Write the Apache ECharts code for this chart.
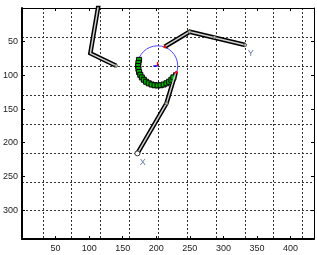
<!DOCTYPE html>
<html>
<head>
<meta charset="utf-8">
<script src="https://cdn.jsdelivr.net/npm/echarts@6/dist/echarts.min.js"></script>
<style>
  html, body { margin: 0; padding: 0; background: #fff; }
  #chart { width: 317px; height: 255px; }
</style>
</head>
<body>
<div id="chart"></div>
<script>
// axis ranges (image coordinates, y grows downward)
const xMax = 435
const yMax = 343
const gridXValues = [31, 74, 117, 160, 203, 246, 289, 332, 375, 418]
const gridYValues = [43, 86, 129, 172, 215, 258, 301]

// links
const armAX = [114, 101.8, 140.2]
const armAY = [-5, 67.3, 85.7]
const armBX = [212.7, 249.7, 332.5]
const armBY = [57.5, 35.2, 55]
const armCX = [229, 215.2, 171.9]
const armCY = [96, 141.6, 215.9]

// small markers sitting on the links
const jointX = [140.2, 249.7, 286.7, 332.5, 215.2]
const jointY = [85.7, 35.2, 43.5, 55, 141.6]
const baseX = [171.9]
const baseY = [215.9]

// red contact points
const contactX = [212.7, 230]
const contactY = [57.5, 95.5]

// reach circle
const circleX = 202
const circleY = 86
const circleR = 30

// green arc samples
const arcX = [174.4, 173.4, 173.0, 173.4, 174.4, 176.2, 178.5, 181.5, 184.9, 188.8,
  193.0, 197.5, 202.0, 206.5, 211.0, 215.2, 219.1, 222.5, 225.5]
const arcY = [77.0, 81.5, 86.0, 90.5, 95.0, 99.2, 103.1, 106.5, 109.5, 111.8,
  113.6, 114.7, 115.0, 114.7, 113.6, 111.8, 109.5, 106.5, 103.1]

// little frame at the circle centre
const frameRedX = [202, 202]
const frameRedY = [86, 80.3]
const frameBlueX = [202, 195.6]
const frameBlueY = [86, 86]

// end labels
const tagNames = ['X', 'Y']
const tagX = [179.8, 340.9]
const tagY = [229.3, 68.3]

const zip = (xs, ys) => xs.map((x, i) => [x, ys[i]])

const font = { fontSize: 9, color: '#222', fontFamily: 'Liberation Sans, Arial, sans-serif' }

const armSeries = (xs, ys) => [
  {
    type: 'line', data: zip(xs, ys), symbol: 'none', z: 3,
    lineStyle: { color: '#000', width: 4.5, cap: 'butt', join: 'miter' }
  },
  {
    type: 'line', data: zip(xs, ys), symbol: 'none', z: 4,
    lineStyle: { color: '#cfcfcf', width: 1.5, cap: 'butt' }
  }
]

const chart = echarts.init(document.getElementById('chart'))

chart.setOption({
  animation: false,
  grid: { left: 20, top: 8, width: 294, height: 231, show: false },
  xAxis: [
    {
      type: 'value', position: 'bottom', min: 0, max: xMax, interval: 50,
      axisLine: { show: true, onZero: false, lineStyle: { color: '#000', width: 2 } },
      axisTick: { inside: true, length: 3, lineStyle: { color: '#000' } },
      axisLabel: Object.assign({ showMinLabel: false, showMaxLabel: false, margin: 5 }, font),
      splitLine: { show: false }
    },
    {
      type: 'value', position: 'top', min: 0, max: xMax, interval: 50,
      axisLine: { show: true, onZero: false, lineStyle: { color: '#000', width: 1 } },
      axisTick: { inside: true, length: 3, lineStyle: { color: '#000' } },
      axisLabel: { show: false },
      splitLine: { show: false }
    },
    {
      type: 'value', position: 'bottom', min: 0, max: xMax,
      axisLine: { show: false, onZero: false },
      axisTick: { show: false, customValues: gridXValues },
      axisLabel: { show: false, customValues: gridXValues },
      splitLine: { show: true, lineStyle: { color: '#333', width: 1, type: [2, 2] } }
    }
  ],
  yAxis: [
    {
      type: 'value', position: 'left', inverse: true, min: 0, max: yMax, interval: 50,
      axisLine: { show: true, onZero: false, lineStyle: { color: '#000', width: 2 } },
      axisTick: { inside: true, length: 3, lineStyle: { color: '#000' } },
      axisLabel: Object.assign({ showMinLabel: false, showMaxLabel: false, margin: 4 }, font),
      splitLine: { show: false }
    },
    {
      type: 'value', position: 'right', inverse: true, min: 0, max: yMax, interval: 50,
      axisLine: { show: true, onZero: false, lineStyle: { color: '#000', width: 1 } },
      axisTick: { inside: true, length: 3, lineStyle: { color: '#000' } },
      axisLabel: { show: false },
      splitLine: { show: false }
    },
    {
      type: 'value', position: 'left', inverse: true, min: 0, max: yMax,
      axisLine: { show: false, onZero: false },
      axisTick: { show: false, customValues: gridYValues },
      axisLabel: { show: false, customValues: gridYValues },
      splitLine: { show: true, lineStyle: { color: '#333', width: 1, type: [2, 2] } }
    }
  ],
  series: [
    {
      type: 'custom', z: 2,
      data: [[circleX, circleY, circleR]],
      renderItem: (params, api) => {
        const c = api.coord([api.value(0), api.value(1)])
        const r = api.size([api.value(2), 0])[0]
        return {
          type: 'circle',
          shape: { cx: c[0], cy: c[1], r: r },
          style: { fill: 'none', stroke: '#4b4bff', lineWidth: 1 }
        }
      }
    },
    {
      type: 'scatter', z: 3, data: zip(arcX, arcY),
      symbol: 'rect', symbolSize: 5,
      itemStyle: { color: '#00b000', borderColor: '#000', borderWidth: 1, opacity: 1 }
    },
    ...armSeries(armAX, armAY),
    ...armSeries(armBX, armBY),
    ...armSeries(armCX, armCY),
    {
      type: 'scatter', z: 5, data: zip(jointX, jointY),
      symbol: 'circle', symbolSize: 3,
      itemStyle: { color: '#b8b8a0', borderColor: '#555', borderWidth: 0.8, opacity: 1 }
    },
    {
      type: 'scatter', z: 5, data: zip(baseX, baseY),
      symbol: 'circle', symbolSize: 5,
      itemStyle: { color: '#fff', borderColor: '#333', borderWidth: 1, opacity: 1 }
    },
    {
      type: 'scatter', z: 6, data: zip(contactX, contactY),
      symbol: 'circle', symbolSize: 3,
      itemStyle: { color: '#ff0000', opacity: 1 }
    },
    {
      type: 'line', z: 6, data: zip(frameRedX, frameRedY), symbol: 'none',
      lineStyle: { color: '#ff0000', width: 1.5 }
    },
    {
      type: 'line', z: 6, data: zip(frameBlueX, frameBlueY), symbol: 'none',
      lineStyle: { color: '#0000ff', width: 1.5 }
    },
    {
      type: 'scatter', z: 6, symbolSize: 1,
      itemStyle: { color: 'transparent' },
      data: tagNames.map((n, i) => ({ name: n, value: [tagX[i], tagY[i]] })),
      label: {
        show: true, position: 'inside', formatter: '{b}',
        fontSize: 9, color: '#3d5a8a', fontFamily: 'Liberation Sans, Arial, sans-serif'
      }
    }
  ]
})
</script>
</body>
</html>
